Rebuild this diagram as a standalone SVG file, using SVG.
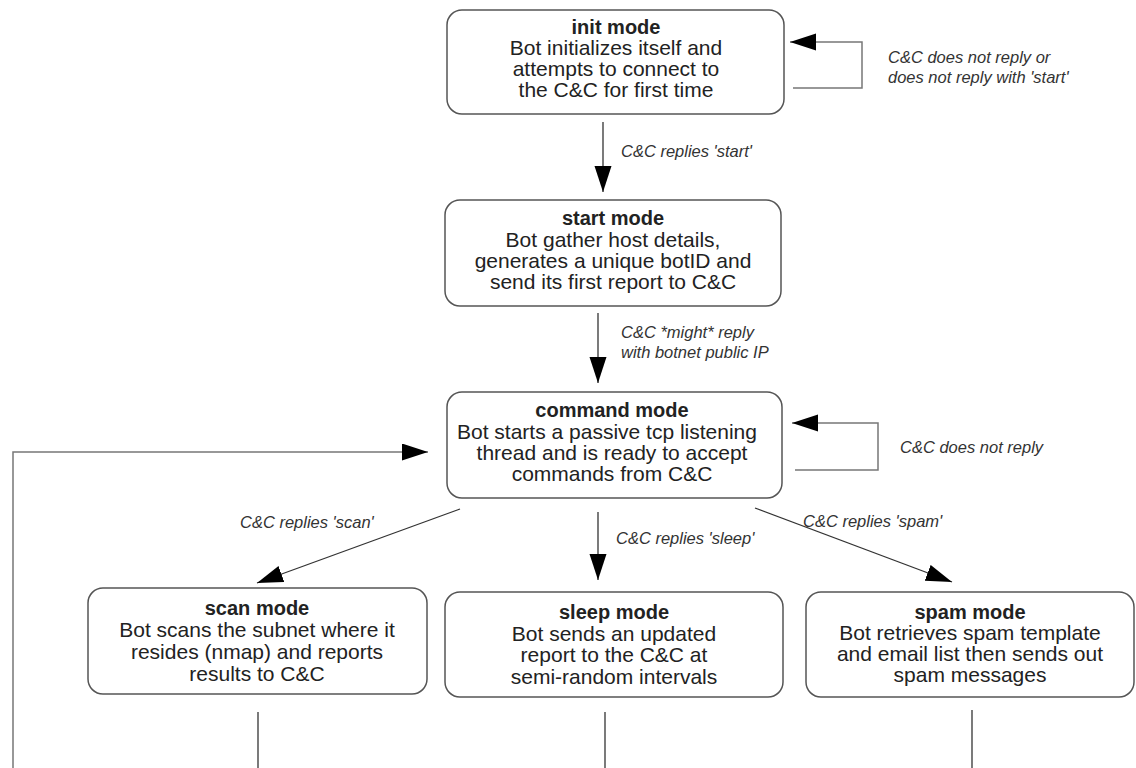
<svg xmlns="http://www.w3.org/2000/svg" width="1136" height="768" viewBox="0 0 1136 768">
<defs>
<marker id="ah" markerUnits="userSpaceOnUse" markerWidth="27" markerHeight="18" refX="26" refY="8.5" orient="auto">
<path d="M0,0 L26,8.5 L0,17 z" fill="#000"/>
</marker>
<style>
.box{fill:#fff;stroke:#555;stroke-width:1.5}
.t{font-family:"Liberation Sans",Arial,sans-serif;font-size:21px;fill:#222;text-anchor:middle}
.b{font-weight:bold;font-size:20px}
.l{font-family:"Liberation Sans",Arial,sans-serif;font-size:16.5px;font-style:italic;fill:#333}
.c{fill:none;stroke:#333;stroke-width:1.3}
.g{fill:none;stroke:#777;stroke-width:1.5}
</style>
</defs>
<rect width="1136" height="768" fill="#fff"/>
<g id="connectors">
<polyline class="g" points="793,88 862,88 862,42 790,42" marker-end="url(#ah)"/>
<line class="c" x1="603" y1="122" x2="603" y2="192" marker-end="url(#ah)"/>
<line class="c" x1="598" y1="313" x2="598" y2="383" marker-end="url(#ah)"/>
<polyline class="g" points="795,470 878,470 878,423 792,423" marker-end="url(#ah)"/>
<polyline class="g" points="13,768 13,452 428,452" marker-end="url(#ah)"/>
<line class="c" x1="460" y1="509" x2="257" y2="583" marker-end="url(#ah)"/>
<line class="c" x1="598" y1="512" x2="598" y2="580" marker-end="url(#ah)"/>
<line class="c" x1="755" y1="508" x2="952" y2="582" marker-end="url(#ah)"/>
<line class="c" x1="258" y1="712" x2="258" y2="768"/>
<line class="c" x1="605" y1="712" x2="605" y2="768"/>
<line class="c" x1="972" y1="710" x2="972" y2="768"/>
<text class="l" x="888" y="63">C&amp;C does not reply or</text>
<text class="l" x="888" y="83">does not reply with 'start'</text>
<text class="l" x="621" y="157">C&amp;C replies 'start'</text>
<text class="l" x="621" y="338">C&amp;C *might* reply</text>
<text class="l" x="621" y="358">with botnet public IP</text>
<text class="l" x="900" y="453">C&amp;C does not reply</text>
<text class="l" x="240" y="528">C&amp;C replies 'scan'</text>
<text class="l" x="616" y="544">C&amp;C replies 'sleep'</text>
<text class="l" x="803" y="527">C&amp;C replies 'spam'</text>
</g>
<g id="init">
<rect class="box" x="447" y="10" width="337" height="104" rx="15"/>
<text class="t b" x="616" y="34">init mode</text>
<text class="t" x="616" y="55">Bot initializes itself and</text>
<text class="t" x="616" y="76">attempts to connect to</text>
<text class="t" x="616" y="97">the C&amp;C for first time</text>
</g>
<g id="start">
<rect class="box" x="445" y="200" width="336" height="106" rx="15"/>
<text class="t b" x="613" y="225">start mode</text>
<text class="t" x="613" y="247">Bot gather host details,</text>
<text class="t" x="613" y="268">generates a unique botID and</text>
<text class="t" x="613" y="289">send its first report to C&amp;C</text>
</g>
<g id="command">
<rect class="box" x="447" y="392" width="335" height="106" rx="15"/>
<text class="t b" x="612" y="417">command mode</text>
<text class="t" x="607" y="439">Bot starts a passive tcp listening</text>
<text class="t" x="612" y="460">thread and is ready to accept</text>
<text class="t" x="612" y="481">commands from C&amp;C</text>
</g>
<g id="scan">
<rect class="box" x="88" y="588" width="339" height="106" rx="15"/>
<text class="t b" x="257" y="615">scan mode</text>
<text class="t" x="257" y="637">Bot scans the subnet where it</text>
<text class="t" x="257" y="659">resides (nmap) and reports</text>
<text class="t" x="257" y="681">results to C&amp;C</text>
</g>
<g id="sleep">
<rect class="box" x="445" y="592" width="338" height="105" rx="15"/>
<text class="t b" x="614" y="619">sleep mode</text>
<text class="t" x="614" y="641">Bot sends an updated</text>
<text class="t" x="614" y="662">report to the C&amp;C at</text>
<text class="t" x="614" y="684">semi-random intervals</text>
</g>
<g id="spam">
<rect class="box" x="806" y="592" width="328" height="105" rx="15"/>
<text class="t b" x="970" y="619">spam mode</text>
<text class="t" x="970" y="640">Bot retrieves spam template</text>
<text class="t" x="970" y="661">and email list then sends out</text>
<text class="t" x="970" y="682">spam messages</text>
</g>
</svg>
